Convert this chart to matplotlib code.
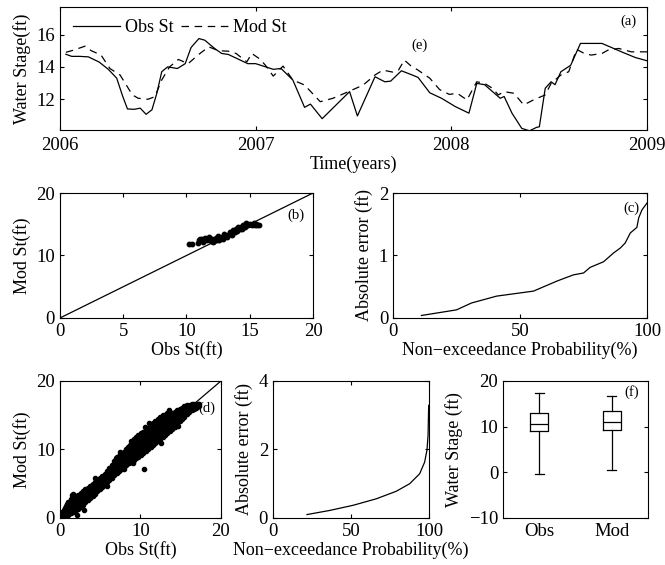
import matplotlib
matplotlib.use("Agg")
import matplotlib.pyplot as plt
import numpy as np

# fonts: Times-like serif like the matlab figure
plt.rcParams['font.family'] = 'serif'
plt.rcParams['font.serif'] = ['Liberation Serif', 'DejaVu Serif']
plt.rcParams['font.size'] = 13.5
plt.rcParams['axes.linewidth'] = 0.8
plt.rcParams['xtick.direction'] = 'in'
plt.rcParams['ytick.direction'] = 'in'
plt.rcParams['xtick.top'] = True
plt.rcParams['ytick.right'] = True
plt.rcParams['xtick.major.size'] = 3
plt.rcParams['ytick.major.size'] = 3
plt.rcParams['xtick.major.width'] = 0.8
plt.rcParams['ytick.major.width'] = 0.8

# (a) time series of observed and modelled stage (decimal years, ft)
obs_t = [2006.03, 2006.06, 2006.10, 2006.145, 2006.20, 2006.247, 2006.29, 2006.32, 2006.345,
         2006.38, 2006.41, 2006.44, 2006.47, 2006.495, 2006.52, 2006.55, 2006.60, 2006.64,
         2006.67, 2006.71, 2006.74, 2006.79, 2006.826, 2006.86, 2006.96, 2007.00, 2007.09,
         2007.13, 2007.19, 2007.25, 2007.28, 2007.34, 2007.48, 2007.52, 2007.61, 2007.66,
         2007.69, 2007.745, 2007.80, 2007.83, 2007.89, 2007.95, 2008.02, 2008.09, 2008.13,
         2008.17, 2008.25, 2008.27, 2008.31, 2008.36, 2008.40, 2008.435, 2008.45, 2008.48,
         2008.51, 2008.53, 2008.56, 2008.61, 2008.66, 2008.77, 2008.87, 2008.94, 2009.00]
obs_v = [14.78, 14.65, 14.65, 14.62, 14.3, 13.85, 13.3, 12.2, 11.4,
         11.38, 11.45, 11.07, 11.35, 12.37, 13.7, 14.0, 13.9, 14.2,
         15.2, 15.75, 15.65, 15.14, 14.83, 14.77, 14.2, 14.2, 13.85,
         13.9, 13.19, 11.5, 11.7, 10.8, 12.47, 10.97, 13.39, 13.08,
         13.12, 13.76, 13.5, 13.35, 12.4, 12.06, 11.55, 11.14, 12.98,
         12.9, 12.06, 12.17, 11.14, 10.2, 10.05, 10.26, 10.3, 12.68,
         13.08, 12.9, 13.7, 14.1, 15.45, 15.45, 14.93, 14.58, 14.38]

mod_t = [2006.03, 2006.068, 2006.128, 2006.16, 2006.21, 2006.255, 2006.307, 2006.37, 2006.40,
         2006.45, 2006.485, 2006.52, 2006.56, 2006.605, 2006.655, 2006.705, 2006.76, 2006.81,
         2006.86, 2006.90, 2006.955, 2006.98, 2007.02, 2007.05, 2007.09, 2007.14, 2007.19,
         2007.25, 2007.33, 2007.395, 2007.48, 2007.55, 2007.61, 2007.65, 2007.70, 2007.73,
         2007.76, 2007.79, 2007.83, 2007.89, 2007.94, 2007.99, 2008.03, 2008.08, 2008.13,
         2008.17, 2008.21, 2008.24, 2008.27, 2008.32, 2008.37, 2008.42, 2008.48, 2008.51,
         2008.56, 2008.60, 2008.64, 2008.68, 2008.715, 2008.77, 2008.80, 2008.855, 2008.92, 2009.00]
mod_v = [14.9, 15.03, 15.28, 15.0, 14.73, 13.9, 13.5, 12.27, 12.06,
         12.0, 12.16, 13.19, 14.0, 14.46, 14.2, 14.73, 15.24, 15.0,
         14.97, 14.83, 14.31, 14.83, 14.5, 14.1, 13.43, 14.05, 13.19,
         12.88, 11.85, 12.06, 12.5, 12.88, 13.5, 13.8, 13.68, 13.8,
         14.42, 14.1, 13.8, 13.3, 12.6, 12.3, 12.37, 11.96, 13.08,
         12.98, 12.68, 12.27, 12.47, 12.37, 11.65, 11.96, 12.27, 12.98,
         13.5, 13.7, 15.08, 14.83, 14.73, 14.83, 15.03, 15.14, 14.93, 14.93]

# (b) observed vs modelled stage, short period
obs_b = [10.2, 10.4, 10.9, 11.0, 11.2, 11.3, 11.5, 11.6, 11.8, 11.9, 12.0, 12.1, 12.3, 12.4,
         12.5, 12.6, 12.8, 12.9, 13.0, 13.1, 13.2, 13.3, 13.5, 13.6, 13.7, 13.8, 13.9, 14.0,
         14.1, 14.2, 14.3, 14.4, 14.5, 14.6, 14.7, 14.9, 15.0, 15.2, 15.3, 15.4, 15.5, 15.6,
         15.7, 13.4, 12.2, 11.1, 14.8]
mod_b = [11.9, 11.8, 12.0, 12.4, 12.6, 12.2, 12.8, 12.4, 12.9, 12.3, 12.6, 12.1, 12.8, 12.5,
         13.1, 12.4, 13.0, 12.7, 13.5, 13.1, 12.9, 13.3, 13.6, 13.2, 14.1, 13.7, 14.3, 13.9,
         14.5, 14.2, 14.6, 14.3, 14.8, 14.5, 15.2, 14.9, 15.1, 14.9, 15.2, 14.8, 15.1, 14.9,
         14.8, 13.8, 12.3, 12.7, 15.0]

# (c) absolute error vs non-exceedance probability, short period
prob_c = [11.2, 25, 30.9, 40.8, 55.3, 64.5, 71, 75, 77.6, 82.9, 86.8, 89.5, 91.4, 93.4, 96, 96.7, 98, 100]
err_c = [0.04, 0.13, 0.24, 0.35, 0.43, 0.59, 0.69, 0.72, 0.81, 0.9, 1.04, 1.12, 1.2, 1.36, 1.45, 1.6, 1.73, 1.84]

# (d) observed vs modelled stage, full record (columns of points per observed value)
obs_d_cols_a = [0.3, 0.6, 0.9, 1.2, 1.5, 1.8, 2.1, 2.4, 2.7, 3.0, 3.3, 3.6, 3.9, 4.2, 4.5, 4.8,
                5.1, 5.4, 5.7, 6.0, 6.3, 6.6, 6.9, 7.2, 7.5, 7.8, 8.1, 8.4, 8.7, 9.0, 9.3, 9.6,
                9.9, 10.2, 10.4, 10.5, 10.8, 11.1, 11.4, 11.7, 12.0, 12.3, 12.6, 12.9, 13.2, 13.5,
                13.8, 14.1, 14.4, 14.7, 15.0, 15.3, 15.6, 15.9, 16.2, 16.5, 16.8, 17.1]
mod_d_cols_a = [[0.4, 0.9], [0.3, 1.0, 1.5], [0.6, 1.3, 2.0], [0.8, 1.6, 2.4], [1.0, 1.8, 2.6, 3.3],
                [1.2, 2.0, 2.8], [1.6, 2.4, 3.1], [1.8, 2.6, 3.4], [2.2, 3.0, 3.6], [1.1, 2.5, 3.2, 3.9],
                [2.8, 3.5, 4.0], [3.0, 3.7, 4.3], [3.3, 4.0, 4.6], [3.6, 4.3, 4.9], [3.9, 4.6, 5.2],
                [4.3, 4.9, 5.5], [4.6, 5.2, 5.8], [4.9, 5.5, 6.0], [5.1, 5.8, 6.3], [5.6, 6.2, 6.9],
                [6.0, 6.6, 7.3], [6.4, 7.0, 7.7], [6.8, 7.4, 8.2, 8.8], [7.0, 7.7, 8.4], [7.3, 8.0, 8.8],
                [7.5, 8.3, 9.0], [7.8, 8.6, 9.4], [8.1, 8.9, 9.7, 10.4], [8.4, 9.2, 10.0, 10.7],
                [8.6, 9.4, 10.2, 11.0], [8.9, 9.7, 10.5, 11.2], [9.1, 10.0, 10.8, 11.5],
                [9.4, 10.3, 11.1, 11.8], [9.7, 10.6, 11.4, 12.1], [7.2], [10.0, 10.8, 11.7, 12.3],
                [10.2, 11.1, 11.9, 12.6], [10.5, 11.4, 12.2, 12.9], [10.8, 11.7, 12.5, 13.2],
                [11.1, 12.0, 12.8, 13.6], [11.3, 12.2, 13.1, 13.9], [11.6, 12.5, 13.4, 14.2],
                [11.9, 12.8, 13.7, 14.5], [12.3, 13.1, 14.0, 14.8], [12.6, 13.4, 14.2, 14.9],
                [12.9, 13.7, 14.5, 15.2], [13.2, 14.0, 14.8], [13.5, 14.3, 15.0], [13.8, 14.6, 15.3],
                [14.2, 14.9, 15.6], [14.6, 15.2, 15.8], [15.0, 15.5, 16.1], [15.3, 15.8, 16.3],
                [15.5, 16.0, 16.4], [15.7, 16.2, 16.5], [15.9, 16.3], [16.1, 16.5], [16.3, 16.6]]
obs_d_cols_b = [0.45, 0.75, 1.05, 1.35, 1.65, 1.95, 2.25, 2.55, 2.85, 3.15, 3.45, 3.75, 4.05, 4.35,
                4.65, 4.95, 5.25, 5.55, 5.85, 6.15, 6.45, 6.75, 7.05, 7.35, 7.65, 7.95, 8.25, 8.55,
                8.85, 9.15, 9.45, 9.75, 10.05, 10.35, 10.65, 10.95, 11.25, 11.55, 11.85, 12.15,
                12.45, 12.75, 13.05, 13.35, 13.65, 13.95, 14.25, 14.55, 14.85, 15.15, 15.45, 15.75,
                16.05, 16.35, 16.65, 16.95, 17.25]
mod_d_cols_b = [[0.2, 0.7, 1.2], [0.5, 1.1, 1.8], [0.4, 1.0, 1.7, 2.3], [0.7, 1.3, 2.0, 2.8],
                [0.9, 1.5, 2.3, 3.0], [1.1, 1.7, 2.5, 3.2], [1.3, 2.0, 2.8, 3.4], [1.6, 2.3, 3.0, 3.7],
                [1.9, 2.6, 3.3, 4.0], [2.3, 2.9, 3.6, 4.2], [2.6, 3.2, 3.9, 4.4], [2.9, 3.5, 4.1, 4.7],
                [3.2, 3.8, 4.4, 5.0], [3.5, 4.1, 4.7, 5.3], [3.9, 4.5, 5.1, 5.6], [4.2, 4.8, 5.4, 5.9],
                [4.5, 5.1, 5.6, 6.1], [4.8, 5.3, 5.9, 6.4], [5.2, 5.7, 6.3, 6.8], [5.6, 6.1, 6.7, 7.3],
                [5.9, 6.5, 7.1, 7.8], [6.3, 6.9, 7.6, 8.3], [6.6, 7.3, 8.0, 8.9], [6.9, 7.6, 8.3, 9.1],
                [7.2, 7.9, 8.6, 9.3], [7.4, 8.1, 8.8, 9.6], [7.7, 8.4, 9.2, 10.0], [8.0, 8.7, 9.5, 10.4],
                [8.2, 9.0, 9.8, 10.6, 11.2], [8.4, 9.3, 10.1, 10.9, 11.5], [8.7, 9.5, 10.4, 11.2, 11.8],
                [8.9, 9.8, 10.6, 11.4, 12.1], [9.2, 10.1, 10.9, 11.7, 12.4], [9.5, 10.4, 11.2, 12.0, 12.6],
                [9.8, 10.6, 11.5, 12.3, 12.9], [10.1, 10.9, 11.8, 12.6, 13.2], [10.3, 11.2, 12.0, 12.9, 13.5],
                [10.6, 11.5, 12.3, 13.2, 13.8], [10.9, 11.8, 12.6, 13.5, 14.1], [11.2, 12.1, 12.9, 13.8, 14.5],
                [11.5, 12.4, 13.2, 14.1, 14.8], [11.8, 12.7, 13.5, 14.4, 15.0], [12.1, 13.0, 13.8, 14.6, 15.1],
                [12.4, 13.3, 14.1, 14.9, 15.3], [12.7, 13.6, 14.4, 15.1], [13.0, 13.9, 14.6, 15.3],
                [13.3, 14.1, 14.9, 15.5], [13.7, 14.5, 15.2, 15.7], [14.1, 14.8, 15.4, 15.9],
                [14.4, 15.1, 15.7, 16.1], [14.8, 15.4, 15.9, 16.3], [15.2, 15.7, 16.2, 16.5],
                [15.5, 16.0, 16.4], [15.7, 16.2, 16.6], [15.9, 16.4, 16.7], [16.1, 16.5], [16.3, 16.6]]
# a few stray points around the band
obs_d_extra = [1.6, 2.1, 5.9, 7.4, 9.1, 12.6, 13.6, 11.0, 4.3, 8.0, 14.6, 10.6]
mod_d_extra = [3.5, 0.5, 4.6, 9.6, 8.0, 11.0, 15.7, 13.9, 5.8, 7.2, 13.4, 13.3]

# (e) absolute error vs non-exceedance probability, full record
prob_e = [21.8, 36.3, 51.3, 66.2, 79, 87.6, 94, 97.2, 98.7, 99.4, 99.8]
err_e = [0.1, 0.22, 0.37, 0.56, 0.78, 1.0, 1.29, 1.63, 1.98, 2.41, 3.29]

# (f) box plot statistics of water stage (ft)
box_names = ['Obs', 'Mod']
box_low = [-0.3, 0.6]
box_q1 = [9.05, 9.2]
box_med = [10.66, 10.95]
box_q3 = [13.07, 13.43]
box_high = [17.3, 16.7]

lbl_size = 13
tag_size = 10.5
dash = (0, (6, 4.5))

fig = plt.figure(figsize=(6.65, 5.65), dpi=100)

# ---- (a) time series
ax_a = fig.add_axes([0.0902, 0.7699, 0.8827, 0.2177])
ax_a.plot(obs_t, obs_v, color='k', lw=0.9, label='Obs St')
ax_a.plot(mod_t, mod_v, color='k', lw=0.9, linestyle=dash, label='Mod St')
ax_a.set_xlim(2006, 2009)
ax_a.set_ylim(10.1, 17.7)
ax_a.set_xticks([2006, 2007, 2008, 2009])
ax_a.set_xticklabels(['2006', '2007', '2008', '2009'])
ax_a.set_yticks([12, 14, 16])
ax_a.tick_params(axis='x', pad=5)
ax_a.set_xlabel('Time(years)', fontsize=lbl_size, labelpad=1)
ax_a.set_ylabel('Water Stage(ft)', fontsize=lbl_size, labelpad=4)
ax_a.legend(loc='center left', bbox_to_anchor=(0.022, 0.83), ncol=2, frameon=False,
            borderpad=0, borderaxespad=0, handlelength=2.6, handletextpad=0.3,
            columnspacing=0.4, fontsize=lbl_size)
ax_a.text(0.968, 0.886, '(a)', transform=ax_a.transAxes, ha='center', va='center', fontsize=tag_size)
ax_a.text(0.612, 0.69, '(e)', transform=ax_a.transAxes, ha='center', va='center', fontsize=tag_size)

# ---- (b) scatter short period
ax_b = fig.add_axes([0.0902, 0.4372, 0.3805, 0.2212])
ax_b.plot([0, 20], [0, 20], color='k', lw=0.9)
ax_b.plot(obs_b, mod_b, 'o', color='k', ms=3.2, mec='k')
ax_b.set_xlim(0, 20)
ax_b.set_ylim(0, 20)
ax_b.set_xticks([0, 5, 10, 15, 20])
ax_b.set_yticks([0, 10, 20])
ax_b.set_xlabel('Obs St(ft)', fontsize=lbl_size, labelpad=1)
ax_b.set_ylabel('Mod St(ft)', fontsize=lbl_size, labelpad=4)
ax_b.text(0.933, 0.824, '(b)', transform=ax_b.transAxes, ha='center', va='center', fontsize=tag_size)

# ---- (c) error curve short period
ax_c = fig.add_axes([0.591, 0.4372, 0.382, 0.2212])
ax_c.plot(prob_c, err_c, color='k', lw=0.9)
ax_c.set_xlim(0, 100)
ax_c.set_ylim(0, 2)
ax_c.set_xticks([0, 50, 100])
ax_c.set_yticks([0, 1, 2])
ax_c.set_xlabel('Non\u2212exceedance Probability(%)', fontsize=lbl_size, labelpad=1)
ax_c.set_ylabel('Absolute error (ft)', fontsize=lbl_size, labelpad=4)
ax_c.text(0.94, 0.878, '(c)', transform=ax_c.transAxes, ha='center', va='center', fontsize=tag_size)

# ---- (d) scatter full record
obs_d = list(obs_d_extra)
mod_d = list(mod_d_extra)
for o, m_list in zip(obs_d_cols_a + obs_d_cols_b, mod_d_cols_a + mod_d_cols_b):
    for m in m_list:
        obs_d.append(o)
        mod_d.append(m)

ax_d = fig.add_axes([0.0902, 0.0832, 0.2421, 0.2425])
ax_d.plot([0, 20], [0, 20], color='k', lw=0.9)
ax_d.plot(obs_d, mod_d, 'o', color='k', ms=3, mec='k')
ax_d.set_xlim(0, 20)
ax_d.set_ylim(0, 20)
ax_d.set_xticks([0, 10, 20])
ax_d.set_yticks([0, 10, 20])
ax_d.set_xlabel('Obs St(ft)', fontsize=lbl_size, labelpad=1)
ax_d.set_ylabel('Mod St(ft)', fontsize=lbl_size, labelpad=4)
ax_d.text(0.91, 0.80, '(d)', transform=ax_d.transAxes, ha='center', va='center', fontsize=tag_size)

# ---- (e) error curve full record
ax_e = fig.add_axes([0.4105, 0.0832, 0.2346, 0.2425])
ax_e.plot(prob_e, err_e, color='k', lw=0.9)
ax_e.set_xlim(0, 100)
ax_e.set_ylim(0, 4)
ax_e.set_xticks([0, 50, 100])
ax_e.set_yticks([0, 2, 4])
ax_e.set_xlabel('Non\u2212exceedance Probability(%)', fontsize=lbl_size, labelpad=1)
ax_e.set_ylabel('Absolute error (ft)', fontsize=lbl_size, labelpad=4)

# ---- (f) box plots
stats = []
for i in range(len(box_names)):
    stats.append(dict(label=box_names[i], whislo=box_low[i], q1=box_q1[i], med=box_med[i],
                      q3=box_q3[i], whishi=box_high[i], fliers=[]))

ax_f = fig.add_axes([0.7564, 0.0832, 0.218, 0.2425])
ax_f.bxp(stats, positions=[1, 2], widths=0.25, showfliers=False,
         boxprops=dict(color='k', lw=0.9), medianprops=dict(color='k', lw=0.9),
         whiskerprops=dict(color='k', lw=0.9), capprops=dict(color='k', lw=0.9),
         capwidths=0.12)
ax_f.set_xlim(0.5, 2.5)
ax_f.set_ylim(-10, 20)
ax_f.set_yticks([-10, 0, 10, 20])
ax_f.tick_params(axis='x', top=False, length=0)
ax_f.set_ylabel('Water Stage (ft)', fontsize=lbl_size, labelpad=4)
ax_f.text(0.888, 0.92, '(f)', transform=ax_f.transAxes, ha='center', va='center', fontsize=tag_size)

plt.savefig('out.png', dpi=100, facecolor='white')
